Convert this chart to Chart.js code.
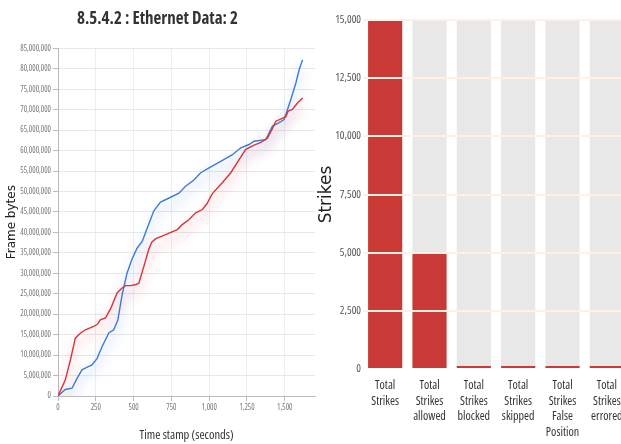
<!DOCTYPE html>
<html>
<head>
<meta charset="utf-8">
<script src="https://cdn.jsdelivr.net/npm/chart.js@4.4.0/dist/chart.umd.min.js"></script>
<style>
  html, body { margin: 0; padding: 0; background: #fff; overflow: hidden; width: 621px; height: 444px; }
  #lineChart { position: absolute; left: 0; top: 0; }
  #barChart { position: absolute; left: 315px; top: 0; }
</style>
</head>
<body>
<canvas id="lineChart" width="325" height="444"></canvas>
<canvas id="barChart" width="330" height="444"></canvas>
<script>
// values
const redTimes = [0, 48, 82, 115, 150, 181, 236, 262, 280, 314, 350, 391, 420, 446, 480, 510, 535, 568, 600, 620, 645, 700, 789, 822, 866, 910, 955, 985, 1021, 1088, 1143, 1198, 1242, 1290, 1342, 1386, 1420, 1441, 1480, 1507, 1523, 1551, 1585, 1618];
const redBytes = [0, 3.9e6, 8.8e6, 14.2e6, 15.4e6, 16.2e6, 17.0e6, 17.6e6, 18.6e6, 19.1e6, 21.5e6, 25.2e6, 26.3e6, 27.0e6, 27.0e6, 27.2e6, 27.6e6, 31.7e6, 35.8e6, 37.6e6, 38.4e6, 39.3e6, 40.7e6, 41.9e6, 43.1e6, 44.8e6, 45.6e6, 47.0e6, 49.5e6, 52.2e6, 54.6e6, 57.8e6, 60.3e6, 61.2e6, 62.0e6, 63.1e6, 65.5e6, 67.2e6, 67.8e6, 68.3e6, 69.7e6, 70.1e6, 71.7e6, 72.9e6];

const blueTimes = [0, 48, 93, 126, 159, 190, 225, 259, 292, 336, 369, 396, 424, 457, 490, 524, 557, 595, 634, 678, 745, 800, 844, 899, 944, 999, 1076, 1154, 1209, 1264, 1297, 1375, 1419, 1460, 1496, 1540, 1574, 1596, 1618];
const blueBytes = [0, 1.6e6, 1.9e6, 4.3e6, 6.4e6, 7.0e6, 7.6e6, 9.2e6, 12.1e6, 15.4e6, 16.2e6, 18.6e6, 24.7e6, 30.1e6, 33.5e6, 36.2e6, 37.8e6, 41.5e6, 45.3e6, 47.4e6, 48.6e6, 49.6e6, 51.3e6, 52.8e6, 54.6e6, 55.8e6, 57.4e6, 59.0e6, 60.7e6, 61.5e6, 62.3e6, 62.7e6, 66.0e6, 66.8e6, 67.6e6, 72.5e6, 76.6e6, 79.9e6, 82.2e6];
const timeTicks = [0, 250, 500, 750, 1000, 1250, 1500];

const strikeLabels = [
  ["Total", "Strikes"],
  ["Total", "Strikes", "allowed"],
  ["Total", "Strikes", "blocked"],
  ["Total", "Strikes", "skipped"],
  ["Total", "Strikes", "False", "Position"],
  ["Total", "Strikes", "errored"]
];
const strikeCounts = [15000, 5000, 130, 130, 130, 130];
const strikeCeiling = [15000, 15000, 15000, 15000, 15000, 15000];

// pick the narrowest sans face that is really there
function pickNarrow() {
  const ctx = document.createElement("canvas").getContext("2d");
  const candidates = [
    { stretch: "condensed", family: "'Open Sans', sans-serif" },
    { stretch: "", family: "'Liberation Sans Narrow', sans-serif" },
    { stretch: "", family: "'DejaVu Sans Condensed', sans-serif" },
    { stretch: "condensed", family: "'DejaVu Sans', sans-serif" },
    { stretch: "", family: "'Liberation Sans', sans-serif" }
  ];
  let best = candidates[candidates.length - 1];
  let bestW = Infinity;
  candidates.forEach((c) => {
    ctx.font = (c.stretch ? c.stretch + " " : "") + "20px " + c.family;
    const w = ctx.measureText("Time stamp (seconds) 85,000,000").width;
    if (w < bestW - 0.5) { bestW = w; best = c; }
  });
  return best;
}
const narrow = pickNarrow();
function nf(size, weight) {
  return {
    family: narrow.family,
    size: size,
    weight: ((narrow.stretch || "") + " " + (weight || "normal")).trim()
  };
}

// soft glow under the lines
const glow = {
  id: "glow",
  beforeDatasetDraw(chart, args) {
    const ds = chart.data.datasets[args.index];
    if (!ds.glowColor) return;
    const ctx = chart.ctx;
    ctx.save();
    ctx.shadowColor = ds.glowColor;
    ctx.shadowBlur = 12;
    ctx.shadowOffsetY = 8;
  },
  afterDatasetDraw(chart, args) {
    const ds = chart.data.datasets[args.index];
    if (!ds.glowColor) return;
    chart.ctx.restore();
  }
};

function pairs(xs, ys) {
  return xs.map((x, i) => ({ x: x, y: ys[i] }));
}

new Chart(document.getElementById("lineChart"), {
  type: "line",
  data: {
    datasets: [
      {
        data: pairs(redTimes, redBytes),
        borderColor: "#d8343c",
        glowColor: "rgba(235,60,70,0.6)",
        borderWidth: 1.4,
        pointRadius: 0,
        tension: 0
      },
      {
        data: pairs(blueTimes, blueBytes),
        borderColor: "#3d7bd6",
        glowColor: "rgba(60,130,235,0.6)",
        borderWidth: 1.4,
        pointRadius: 0,
        tension: 0
      }
    ]
  },
  options: {
    responsive: false,
    animation: false,
    layout: { padding: { right: 10 } },
    plugins: {
      legend: { display: false },
      tooltip: { enabled: false },
      title: {
        display: true,
        text: "8.5.4.2 : Ethernet Data: 2",
        color: "#333",
        font: nf(17, "bold"),
        padding: { top: 9, bottom: 19 }
      }
    },
    scales: {
      x: {
        type: "linear",
        min: 0,
        max: 1700,
        afterBuildTicks: (s) => { s.ticks = timeTicks.map((v) => ({ value: v })); },
        afterFit: (s) => { s.height = 48; },
        ticks: {
          color: "#777",
          font: nf(8),
          padding: 2,
          maxRotation: 0,
          autoSkip: false,
          callback: (v) => v.toLocaleString("en-US")
        },
        grid: { color: "#eeeeee", tickColor: "#bbb", tickLength: 5 },
        border: { color: "#bbb" },
        title: {
          display: true,
          text: "Time stamp (seconds)",
          color: "#333",
          font: nf(12.5),
          padding: { top: 0, bottom: 1 }
        }
      },
      y: {
        min: 0,
        max: 85e6,
        afterFit: (s) => { s.width = 58; },
        ticks: {
          stepSize: 5e6,
          autoSkip: false,
          color: "#777",
          font: nf(8),
          padding: 2,
          callback: (v) => v.toLocaleString("en-US")
        },
        grid: { color: "#e8e8e8", tickColor: "#bbb", tickLength: 5 },
        border: { color: "#bbb" },
        title: {
          display: true,
          text: "Frame bytes",
          color: "#222",
          font: { family: "'DejaVu Sans', sans-serif", size: 12 },
          padding: { top: 5, bottom: 0 }
        }
      }
    }
  },
  plugins: [glow]
});

new Chart(document.getElementById("barChart"), {
  type: "bar",
  data: {
    labels: strikeLabels,
    datasets: [
      {
        data: strikeCounts,
        backgroundColor: "#c93a37",
        grouped: false,
        barPercentage: 0.77,
        categoryPercentage: 1
      },
      {
        data: strikeCeiling,
        backgroundColor: "#e8e8e8",
        grouped: false,
        barPercentage: 0.77,
        categoryPercentage: 1
      }
    ]
  },
  options: {
    responsive: false,
    animation: false,
    layout: { padding: { top: 20, right: 16 } },
    plugins: {
      legend: { display: false },
      tooltip: { enabled: false }
    },
    scales: {
      x: {
        afterFit: (s) => { s.height = 75; },
        grid: { display: false, drawTicks: false },
        border: { display: false },
        ticks: {
          color: "#333",
          font: Object.assign(nf(12), { lineHeight: 1.3 }),
          padding: 9,
          autoSkip: false,
          maxRotation: 0
        }
      },
      y: {
        min: 0,
        max: 15000,
        afterFit: (s) => { s.width = 48; },
        ticks: {
          stepSize: 2500,
          color: "#555",
          font: nf(11),
          padding: 2,
          callback: (v) => v.toLocaleString("en-US")
        },
        grid: {
          color: (c) => (c.tick && c.tick.value === 0 ? "rgba(0,0,0,0)" : "#fdf0e6"),
          lineWidth: 2,
          drawTicks: false,
          z: 1
        },
        border: { display: false },
        title: {
          display: true,
          text: "Strikes",
          color: "#222",
          font: { family: "'DejaVu Sans', sans-serif", size: 17 },
          padding: { top: 1, bottom: 0 }
        }
      }
    }
  }
});
</script>
</body>
</html>
